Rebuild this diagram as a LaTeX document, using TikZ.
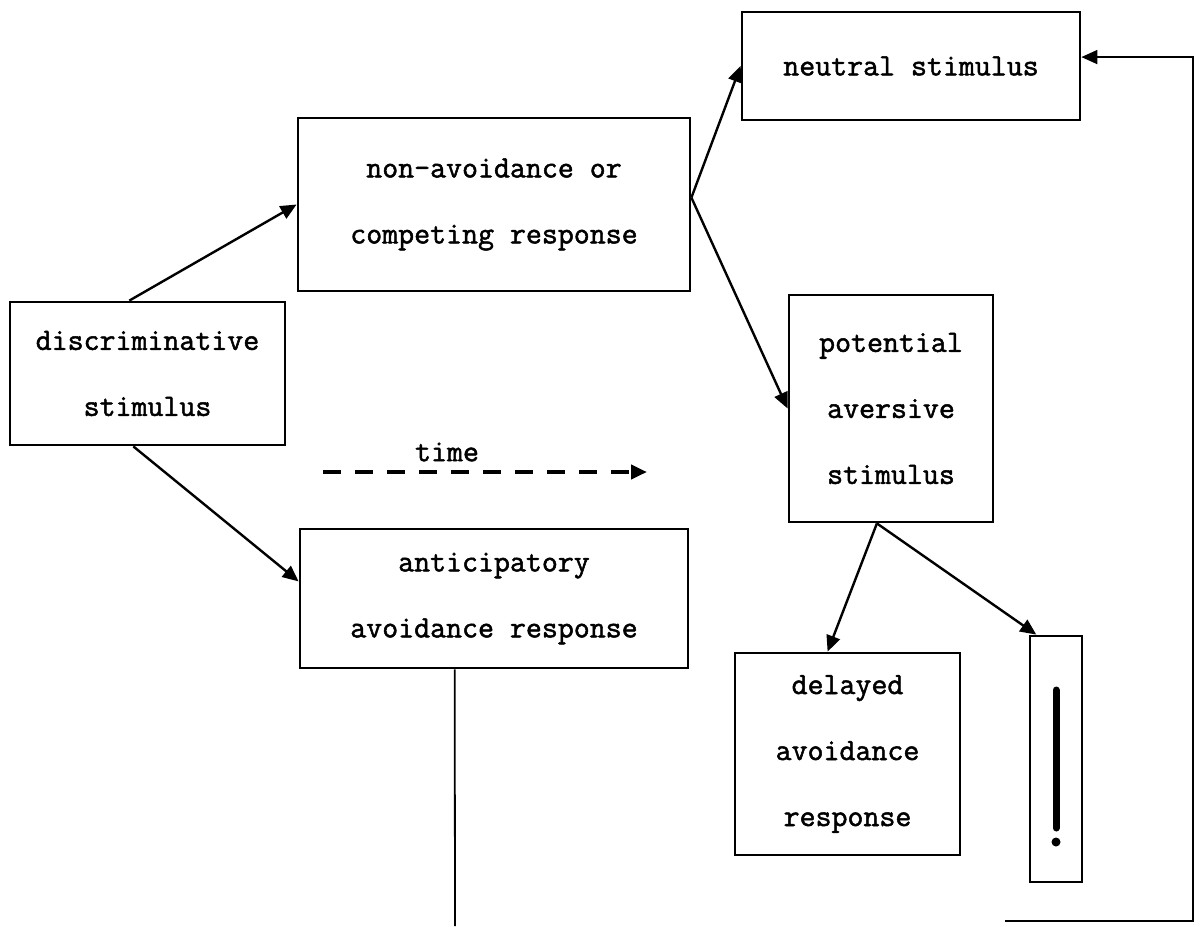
\documentclass[tikz,border=0pt]{standalone}
\usepackage{fontspec}
\usepackage{tikz}
\usetikzlibrary{arrows.meta}

\newfontfamily\typew{Latin Modern Mono}[FakeBold=1.6]

\tikzset{
  box/.style={draw, line width=2.8pt, inner sep=0pt, align=center},
  conn/.style={line width=2.4pt},
  >={Triangle[length=16pt,width=14pt]}
}

\begin{document}
\begin{tikzpicture}[x=1pt, y=-1pt, font=\typew\fontsize{31}{66}\selectfont]
\useasboundingbox (0,0) rectangle (1204,926);

%%%%% boxes
\node[box, minimum width=338, minimum height=108] (neutral) at (911,66) {neutral stimulus};
\node[box, minimum width=392, minimum height=173] (nonav) at (494,204.5) {non-avoidance or\\competing response};
\node[box, minimum width=275, minimum height=143] (disc) at (147.5,373.5) {discriminative\\stimulus};
\node[box, minimum width=388, minimum height=139] (antic) at (494,598.5) {anticipatory\\avoidance response};
\node[box, minimum width=204, minimum height=227] (potential) at (891,408.5) {potential\\aversive\\stimulus};
\node[box, minimum width=225, minimum height=202] (delayed) at (847.5,754) {delayed\\avoidance\\response};
\node[box, minimum width=52, minimum height=246] (bang) at (1056,759) {};

%%%%% the mark in the narrow box
\draw[line width=7pt, line cap=round] ([yshift=69]bang.center) -- ([yshift=-69]bang.center);
\fill ([yshift=-83]bang.center) circle [radius=4.5];

%%%%% time
\node (time) at (447,452) {time};
\coordinate (tstart) at (323,472); \coordinate (tend) at (647,472);
\draw[->, line width=4pt, dash pattern=on 18pt off 14pt] (tstart) -- (tend);

%%%%% connectors
\draw[conn, ->] (disc.104) -- (nonav.west); \draw[conn, ->] (disc.259) -- (antic.175);
\draw[conn, ->] (nonav.2) -- (neutral.west); \draw[conn, ->] (nonav.2) -- (potential.west);
\draw[conn, ->] (potential.263) -- (delayed.101); \draw[conn, ->] (potential.263) -- (bang.99);

%%%%% feedback line
\coordinate (anticend) at (455,926);
\coordinate (fbstart) at (1005,921); \coordinate (fbcorner) at (1193,921);
\draw[line width=1.8pt] (antic.241) -- (anticend);
\draw[line width=1.8pt, ->] (fbstart) -- (fbcorner) |- (neutral.3);

\end{tikzpicture}
\end{document}
